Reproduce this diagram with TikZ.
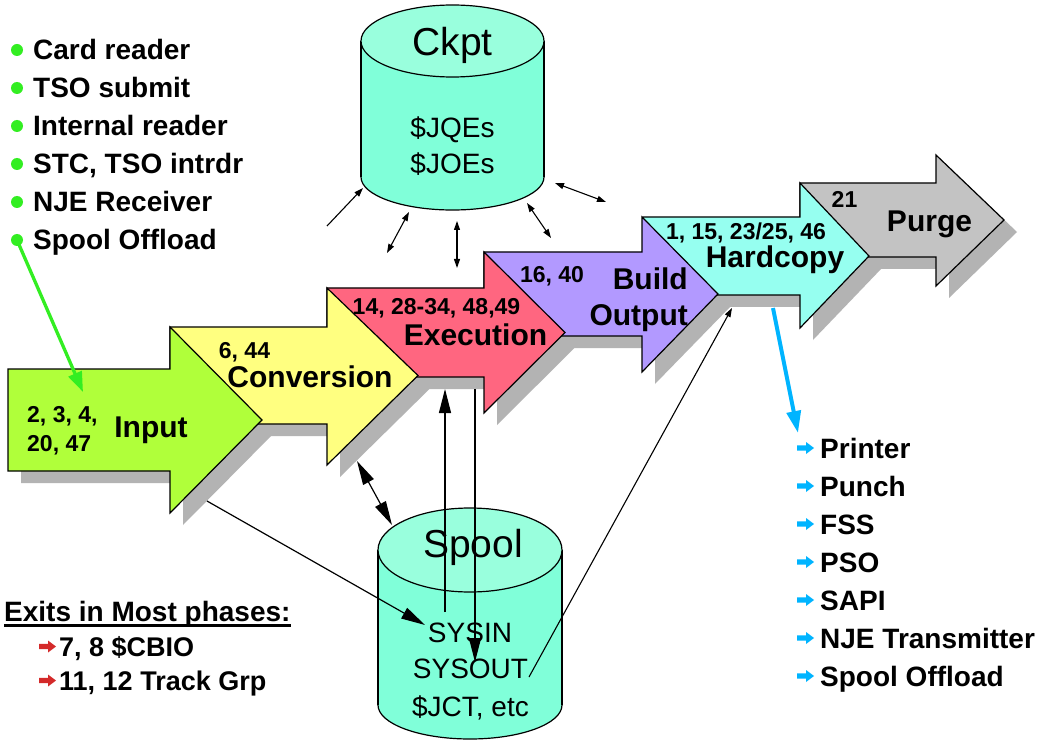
\documentclass[tikz,border=0pt]{standalone}
\usepackage{fontspec}
\setmainfont{Liberation Sans}
\usetikzlibrary{arrows.meta,positioning}
\definecolor{inputgreen}{HTML}{B0FF3A}
\definecolor{convyellow}{HTML}{FFFF80}
\definecolor{execred}{HTML}{FF6680}
\definecolor{buildpurple}{HTML}{B299FF}
\definecolor{hardcyan}{HTML}{96FFF0}
\definecolor{purgegray}{HTML}{C3C3C3}
\definecolor{shadowgray}{HTML}{B3B3B3}
\definecolor{cylbody}{HTML}{80FFD9}
\definecolor{cyltop}{HTML}{99FFDD}
\definecolor{feedgreen}{HTML}{33EE22}
\definecolor{devblue}{HTML}{00B4FF}
\definecolor{exitred}{HTML}{D42A2A}
\newcommand{\phasepath}[7]{(#1,#2) -- (#4,#2) -- (#4,#5) -- (#6,{(#2+#3)/2}) -- (#4,#7) -- (#4,#3) -- (#1,#3) -- cycle}
\newcommand{\markpath}{(-23,-2.6) -- (-14,-2.6) -- (-14,-6) -- (-6,0) -- (-14,6) -- (-14,2.6) -- (-23,2.6) -- cycle}
\tikzstyle{stage} = [draw=black, line width=1.2pt]
\tikzstyle{stageshadow} = [fill=shadowgray, shift={(13,12)}]
\tikzstyle{phase} = [font=\fontsize{30}{36}\selectfont\bfseries, inner sep=0pt, text height=21.5pt, text depth=0pt]
\tikzstyle{jobnum} = [font=\fontsize{23}{29}\selectfont\bfseries, inner sep=0pt, text height=16.5pt, text depth=0pt]
\tikzstyle{dbtitle} = [font=\fontsize{39}{39}\selectfont, inner sep=0pt, text height=28pt, text depth=0pt]
\tikzstyle{dbtext} = [font=\fontsize{28}{36.5}\selectfont, inner sep=0pt, text height=20pt, text depth=0pt, align=center]
\tikzstyle{dbline} = [draw=black, line width=1.2pt]
\tikzstyle{srcitem} = [font=\fontsize{28}{28}\selectfont\bfseries, anchor=west, inner sep=0pt, text height=20pt, text depth=0pt]
\tikzstyle{devitem} = [srcitem]
\tikzstyle{exititem} = [srcitem, font=\fontsize{27}{27}\selectfont\bfseries, text height=19.3pt]
\tikzstyle{link} = [draw, line width=1.1pt]
\tikzstyle{big} = [draw, line width=1.2pt, >={Triangle[length=24pt,width=12pt]}]
\tikzstyle{feed} = [draw=feedgreen, line width=3.3pt, -{Triangle[length=20pt,width=14pt]}]
\tikzstyle{outflow} = [draw=devblue, line width=4pt, -{Triangle[length=22pt,width=14pt]}]
\tikzstyle{srcdot} = [fill=feedgreen]

\begin{document}
\begin{tikzpicture}[x=1pt, y=-1pt, >={Triangle[length=9pt,width=6pt]}, line join=miter]
    \useasboundingbox[fill=white] (0,0) rectangle (1045,746);

    \fill[stageshadow] \phasepath{800}{183}{257}{936}{155}{1004}{286};
    \fill[stageshadow] \phasepath{643}{217}{295}{800}{183}{869}{328};
    \fill[stageshadow] \phasepath{484}{252}{336}{642}{217}{718}{372};
    \fill[stageshadow] \phasepath{327}{288}{377}{484}{252}{565}{413};
    \fill[stageshadow] \phasepath{170}{327}{424}{327}{288}{418}{465};
    \fill[stageshadow] \phasepath{8}{369}{471}{170}{327}{262}{513};

    \filldraw[stage, fill=purgegray] \phasepath{800}{183}{257}{936}{155}{1004}{286};
    \filldraw[stage, fill=hardcyan] \phasepath{643}{217}{295}{800}{183}{869}{328};
    \filldraw[stage, fill=buildpurple] \phasepath{484}{252}{336}{642}{217}{718}{372};
    \filldraw[stage, fill=execred] \phasepath{327}{288}{377}{484}{252}{565}{413};
    \filldraw[stage, fill=convyellow] \phasepath{170}{327}{424}{327}{288}{418}{465};
    \filldraw[stage, fill=inputgreen] \phasepath{8}{369}{471}{170}{327}{262}{513};

    \node[phase] (purge) at (929.5,221) {Purge};
    \node[jobnum] (purgenum) at (844.5,199.5) {21};
    \node[phase] (hardcopy) at (775,256.5) {Hardcopy};
    \node[jobnum] (hardcopynum) at (746,231) {1, 15, 23/25, 46};
    \node[phase, align=right, anchor=east] (build) at (688,315) {Build\\Output};
    \node[jobnum] (buildnum) at (552,274) {16, 40};
    \node[phase] (exec) at (475.5,334.5) {Execution};
    \node[jobnum] (execnum) at (436.5,306) {14, 28-34, 48,49};
    \node[phase] (conv) at (310,376.5) {Conversion};
    \node[jobnum] (convnum) at (244.5,350) {6, 44};
    \node[phase] (input) at (151,427) {Input};
    \node[jobnum, align=left, anchor=west] (inputnum) at (27,443) {2, 3, 4,\\20, 47};

    \filldraw[dbline, fill=cylbody] (452.5,177) ellipse [x radius=91.5, y radius=33];
    \fill[cylbody] (361,41) rectangle (544,177);
    \draw[dbline] (361,41) -- (361,177) (544,41) -- (544,177);
    \filldraw[dbline, fill=cyltop] (452.5,41) ellipse [x radius=91.5, y radius=36];
    \node[dbtitle] (ckpt) at (452.5,42) {Ckpt};
    \node[dbtext] (ckptdata) at (452.5,164) {\$JQEs\\\$JOEs};

    \filldraw[dbline, fill=cylbody] (470,705) ellipse [x radius=92, y radius=34];
    \fill[cylbody] (378,550) rectangle (562,705);
    \draw[dbline] (378,550) -- (378,705) (562,550) -- (562,705);
    \filldraw[dbline, fill=cyltop] (470,550) ellipse [x radius=92, y radius=42];
    \node[dbtitle] (spool) at (473,543) {Spool};
    \node[dbtext] (sysin) at (470,632.5) {SYSIN};
    \node[dbtext] (sysout) at (470.5,668.5) {SYSOUT};
    \node[dbtext] (jct) at (470.5,706.5) {\$JCT, etc};

    \coordinate (inputin) at (83,392);
    \coordinate (inputout) at (207,501);
    \coordinate (sysintip) at (425,625);
    \coordinate (convout) at (357,461);
    \coordinate (spooltop) at (392,525);
    \coordinate (sysinup) at (445,612);
    \coordinate (execin) at (445,389);
    \coordinate (execout) at (475,389);
    \coordinate (sysoutin) at (475,662);
    \coordinate (sysoutup) at (529,677);
    \coordinate (hardcopyin) at (732,308);
    \coordinate (hardcopyout) at (773,308);
    \coordinate (devices) at (798,433);
    \coordinate (ckfeed) at (327,226);
    \coordinate (ckin) at (363,188);
    \coordinate (ckconv) at (387,253);
    \coordinate (ckbase1) at (409,212);
    \coordinate (ckexec) at (457,268);
    \coordinate (ckbase2) at (457,221);
    \coordinate (ckbuild) at (551,238);
    \coordinate (ckbase3) at (527,203);
    \coordinate (ckhard) at (606,202);
    \coordinate (ckbase4) at (555,183);

    \draw[link, ->] (ckfeed) -- (ckin);
    \draw[link, <->] (ckconv) -- (ckbase1);
    \draw[link, <->] (ckexec) -- (ckbase2);
    \draw[link, <->] (ckbuild) -- (ckbase3);
    \draw[link, <->] (ckhard) -- (ckbase4);
    \draw[big, ->] (inputout) -- (sysintip);
    \draw[big, <->] (convout) -- (spooltop);
    \draw[big, ->] (sysinup) -- (execin);
    \draw[big, ->] (execout) -- (sysoutin);
    \draw[link, ->] (sysoutup) -- (hardcopyin);

    \node[srcitem] (card) at (33,50) {Card reader};
    \node[srcitem] (tsosub) at ([yshift=-38pt]card.west) {TSO submit};
    \node[srcitem] (intrdr) at ([yshift=-38pt]tsosub.west) {Internal reader};
    \node[srcitem] (stc) at ([yshift=-38pt]intrdr.west) {STC, TSO intrdr};
    \node[srcitem] (njer) at ([yshift=-38pt]stc.west) {NJE Receiver};
    \node[srcitem] (offload) at ([yshift=-38pt]njer.west) {Spool Offload};
    \foreach \n in {card,tsosub,intrdr,stc,njer,offload}
        \fill[srcdot] ([xshift=-16pt]\n.west) circle (6pt);
    \draw[feed] ([xshift=-16pt]offload.west) -- (inputin);

    \node[devitem] (printer) at (820,448) {Printer};
    \node[devitem] (punch) at ([yshift=-38pt]printer.west) {Punch};
    \node[devitem] (fss) at ([yshift=-38pt]punch.west) {FSS};
    \node[devitem] (pso) at ([yshift=-38pt]fss.west) {PSO};
    \node[devitem] (sapi) at ([yshift=-38pt]pso.west) {SAPI};
    \node[devitem] (njet) at ([yshift=-38pt]sapi.west) {NJE Transmitter};
    \node[devitem] (offl) at ([yshift=-38pt]njet.west) {Spool Offload};
    \foreach \n in {printer,punch,fss,pso,sapi,njet,offl}
        \fill[devblue, shift={(\n.west)}] \markpath;
    \draw[outflow] (hardcopyout) -- (devices);

    \node[srcitem] (exits) at (4,611) {Exits in Most phases:};
    \draw[line width=2.6pt] ([yshift=-4pt]exits.south west) -- ([yshift=-4pt]exits.south east);
    \node[exititem] (cbio) at (59,646.5) {7, 8 \$CBIO};
    \node[exititem] (trackgrp) at ([yshift=-34pt]cbio.west) {11, 12 Track Grp};
    \foreach \n in {cbio,trackgrp}
        \fill[exitred, shift={(\n.west)}, xshift=3pt] \markpath;
\end{tikzpicture}
\end{document}
